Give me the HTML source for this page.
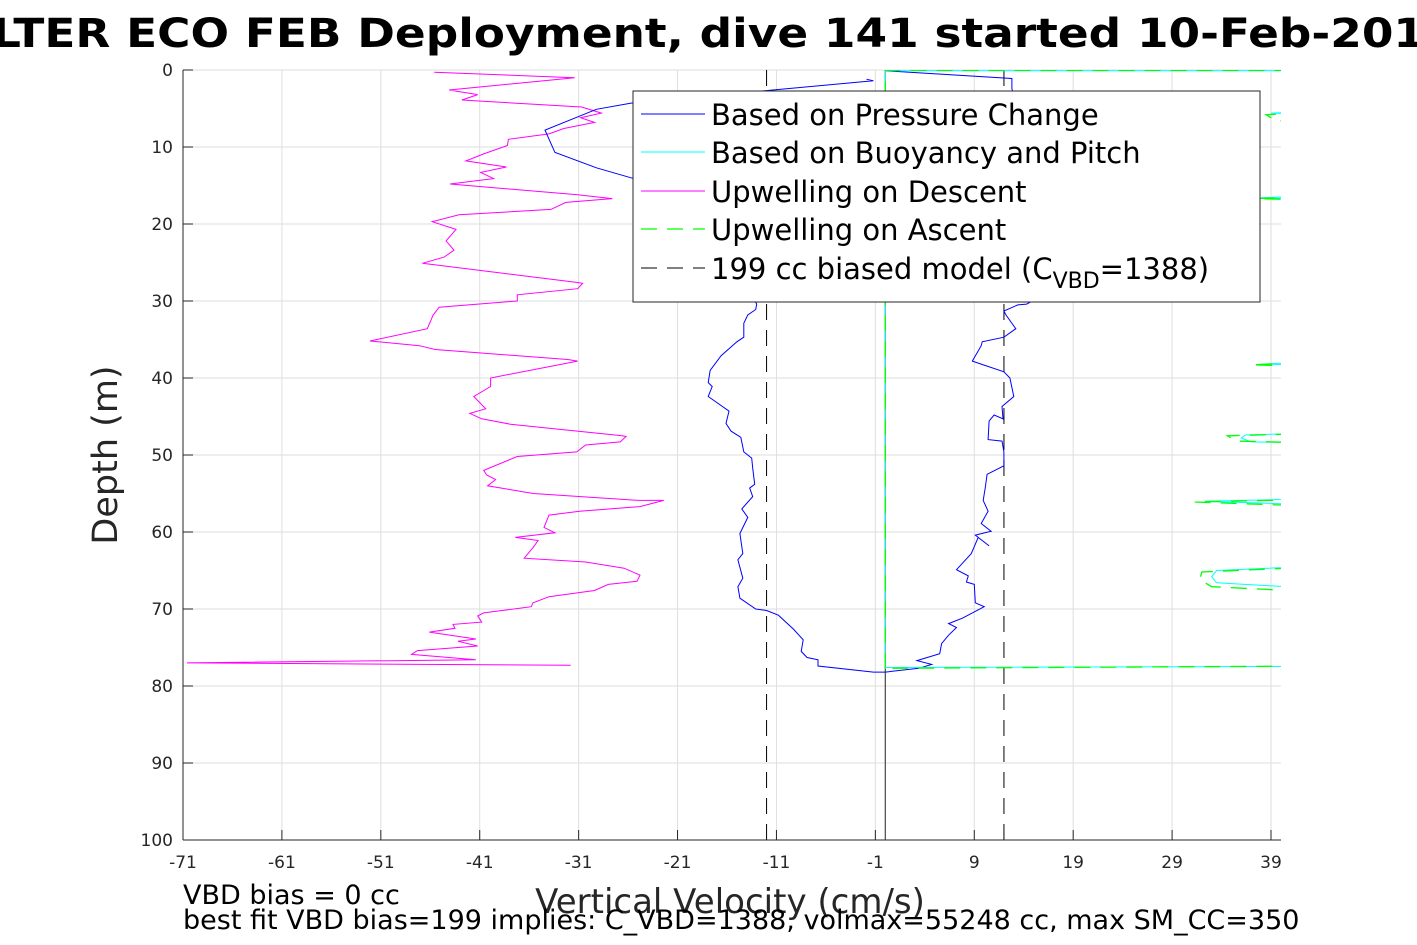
<!DOCTYPE html>
<html><head><meta charset="utf-8"><style>
html,body{margin:0;padding:0;background:#fff;overflow:hidden;}
svg{display:block;font-family:"DejaVu Sans","Liberation Sans",sans-serif;}
</style></head><body>
<svg id="chart" width="1417" height="945" viewBox="0 0 1417 945" xmlns="http://www.w3.org/2000/svg">
<text x="-8" y="47" font-size="40" font-weight="bold" fill="#000" textLength="1433" lengthAdjust="spacingAndGlyphs">LTER ECO FEB Deployment, dive 141 started 10-Feb-201</text>
<defs><clipPath id="plotclip"><rect x="183" y="70" width="1098" height="770"/></clipPath></defs>
<g id="grid"></g>
<g id="series" clip-path="url(#plotclip)"></g>
<g id="axes"></g>
<text transform="translate(117,455) rotate(-90)" text-anchor="middle" font-size="35" fill="#262626">Depth (m)</text>
<text x="730" y="913" text-anchor="middle" font-size="34" fill="#262626">Vertical Velocity (cm/s)</text>
<text x="183" y="904" font-size="27" fill="#000">VBD bias = 0 cc</text>
<text x="183" y="929" font-size="27" fill="#000">best fit VBD bias=199 implies: C_VBD=1388, volmax=55248 cc, max SM_CC=350</text>
<g>
<rect x="633" y="91" width="627" height="211" fill="#fff" stroke="#262626" stroke-width="1"/>
<line x1="641" y1="114" x2="705" y2="114" stroke="#0000ff" stroke-width="1"/>
<text x="711" y="125" font-size="29">Based on Pressure Change</text>
<line x1="641" y1="152" x2="705" y2="152" stroke="#00ffff" stroke-width="1"/>
<text x="711" y="163" font-size="29">Based on Buoyancy and Pitch</text>
<line x1="641" y1="191" x2="705" y2="191" stroke="#ff00ff" stroke-width="1"/>
<text x="711" y="202" font-size="29">Upwelling on Descent</text>
<line x1="641" y1="229" x2="705" y2="229" stroke="#00ff00" stroke-width="1.3" stroke-dasharray="16,10"/>
<text x="711" y="240" font-size="29">Upwelling on Ascent</text>
<line x1="641" y1="268" x2="705" y2="268" stroke="#000" stroke-width="1" stroke-dasharray="16,10"/>
<text x="711" y="279" font-size="29">199 cc biased model (C<tspan font-size="22" dy="9">VBD</tspan><tspan dy="-9">=1388)</tspan></text>
</g>
</svg>
<script>
const xTicks=[-71,-61,-51,-41,-31,-21,-11,-1,9,19,29,39];
const yTicks=[0,10,20,30,40,50,60,70,80,90,100];
const modelVel=[-12,12];
const descentV=[-45.6,-31.4,-44.1,-41.2,-42.8,-30.7,-28.7,-30.8,-29.4,-32.5,-34.0,-38.1,-38.2,-40.6,-42.4,-38.3,-40.9,-39.6,-44.0,-31.1,-27.6,-32.3,-33.8,-43.1,-45.8,-43.4,-44.4,-43.6,-44.6,-46.8,-31.1,-30.6,-31.1,-37.2,-37.2,-45.1,-45.7,-46.3,-52.1,-47.1,-45.5,-32.1,-31.1,-39.9,-39.9,-41.6,-40.4,-42.0,-40.8,-37.9,-26.6,-26.2,-26.8,-30.3,-31.2,-37.2,-40.6,-40.3,-39.4,-40.2,-35.6,-24.9,-22.4,-24.8,-30.9,-34.0,-34.5,-33.4,-37.4,-35.1,-35.6,-36.5,-30.3,-26.4,-24.8,-25.1,-28.0,-29.4,-34.0,-35.6,-35.8,-40.6,-41.2,-40.8,-43.7,-43.5,-46.1,-41.4,-43.2,-41.2,-47.3,-47.9,-41.4,-70.6,-31.8];
const descentD=[0.3,1.0,2.6,3.2,3.9,4.8,5.6,6.2,6.8,7.6,8.3,9.0,9.8,10.9,11.8,12.6,13.3,14.1,14.8,16.2,16.7,17.2,18.1,18.8,19.7,20.7,22.2,23.4,24.3,25.1,27.6,27.7,28.4,29.2,30.0,30.8,31.8,33.6,35.2,35.8,36.3,37.6,37.8,40.0,41.1,42.4,44.0,44.6,45.3,46.0,47.5,47.6,48.3,48.7,49.6,50.2,52.0,52.6,53.2,54.0,55.0,55.9,55.9,56.7,57.3,57.8,59.4,60.1,60.7,61.1,62.0,63.4,63.9,64.7,65.6,66.4,66.8,67.6,68.4,69.2,69.7,70.5,70.9,71.7,72.0,72.5,73.0,73.9,74.2,74.8,75.4,75.9,76.6,77.0,77.3];
const pressV=[-1.9,-1.2,-25.7,-29.2,-34.4,-33.4,-29.2,-25.7,-20,-16,-14,-13.0,-13.1,-13.9,-14.3,-14.3,-15.0,-16.6,-17.7,-17.9,-17.5,-17.9,-15.8,-16.1,-15.6,-14.6,-14.3,-13.5,-13.4,-13.2,-13.7,-13.4,-14.5,-13.9,-14.7,-14.4,-14.9,-14.4,-14.9,-14.7,-13.1,-12.0,-10.8,-9.3,-8.3,-8.5,-7.9,-6.8,-6.8,-1.2,0,3.4,4.7,3.2,5.5,5.7,6.4,7.2,6.4,7.8,10.0,9.1,9.0,8.2,8.4,7.2,8.7,9.4,10.5,9.1,10.7,9.7,10.4,9.9,10.1,10.3,12.0,12.0,11.8,10.4,10.5,11.0,11.9,11.8,13.0,12.6,12.0,9.7,8.8,9.7,9.8,12.0,13.2,12.2,12.0,13.4,14.3,15,15,14,12.8,12.8,0];
const pressD=[1.2,1.4,4.3,5.1,7.8,10.7,12.7,14.0,16,22,28,30.4,31.1,31.8,32.9,34.7,35.3,37.1,39.0,40.6,41.1,42.4,44.3,45.9,46.9,47.7,49.6,50.4,51.7,53.8,54.3,55.4,57.0,58.1,60.2,62.8,63.6,66.0,67.1,68.6,70.0,70.2,70.8,72.6,74.0,75.5,76.3,76.6,77.4,78.2,78.2,77.7,77.2,76.7,75.8,74.5,73.4,72.4,71.9,71.2,69.7,69.2,66.8,66.5,65.7,64.9,62.8,60.7,61.8,60.4,59.9,58.9,57.3,55.9,54.3,52.5,51.4,49.6,48.2,48.0,45.6,44.8,45.3,43.7,42.4,40.0,39.2,38.2,37.8,35.8,35.3,34.7,33.6,31.8,31.3,30.5,30.4,29.9,20,10,2.4,1.1,0.1];
const buoyV=[0,0,60,60,39,60,60,38,60,60,38,60,60,36.4,36,37,60,60,32.3,60,60,33.5,33,33.5,60,60,0];
const buoyD=[77.6,0.1,0.1,4.5,5.6,6.8,15.5,16.6,17.2,37,38.2,38.8,46.5,47.4,47.8,48.3,48.8,55.2,56.0,57.2,63.5,65.0,65.8,66.6,68.5,77.4,77.6];
const ascV=[0,0,60,60,38.5,39.5,60,60,37.5,60,60,37,60,60,34.6,35.5,60,60,31.3,60,60,32,31.8,33,60,60,0];
const ascD=[77.8,0.05,0.05,4.6,5.8,6.6,7.2,15.6,16.7,17.4,37,38.3,39,46.6,47.5,48.2,48.9,55.3,56.1,57.4,63.6,65.2,66.2,67.1,68.8,77.3,77.7];

const X0=183,X1=1281,Y0=70,Y1=840;
const xs=v=>X0+(v+71)*(1088/110);
const ys=d=>Y0+d*(Y1-Y0)/100;
const NS='http://www.w3.org/2000/svg';
function mk(tag,parent,attrs){const e=document.createElementNS(NS,tag);for(const k in attrs)e.setAttribute(k,attrs[k]);parent.appendChild(e);return e;}
const grid=document.getElementById('grid'),axes=document.getElementById('axes'),ser=document.getElementById('series');
xTicks.forEach(t=>{
  const g=mk('line',grid,{x1:xs(t),x2:xs(t),y1:Y0,y2:Y1,stroke:'#dedede','stroke-width':1});
  
  
  const tk=mk('line',axes,{x1:xs(t),x2:xs(t),y1:Y1,y2:Y1-10,stroke:'#262626','stroke-width':1});
  
  
  const lb=mk('text',axes,{x:xs(t),y:Y1+28,'text-anchor':'middle','font-size':17,fill:'#262626'});
  lb.textContent=t;
  
  
});
yTicks.forEach(t=>{
  const g=mk('line',grid,{x1:X0,x2:X1,y1:ys(t),y2:ys(t),stroke:'#dedede','stroke-width':1});
  
  
  const tk=mk('line',axes,{x1:X0,x2:X0+10,y1:ys(t),y2:ys(t),stroke:'#262626','stroke-width':1});
  
  
  const lb=mk('text',axes,{x:X0-10,y:ys(t)+6,'text-anchor':'end','font-size':17,fill:'#262626'});
  lb.textContent=t;
  
  
});
const ax1=mk('line',axes,{x1:X0,x2:X0,y1:Y0,y2:Y1,stroke:'#262626','stroke-width':1});


const ax2=mk('line',axes,{x1:X0,x2:X1,y1:Y1,y2:Y1,stroke:'#262626','stroke-width':1});



function path(vs,ds,color,dash,name,w){
  const d=vs.map((v,i)=>(i?'L':'M')+xs(v).toFixed(1)+','+ys(ds[i]).toFixed(1)).join('');
  const p=mk('path',ser,{d:d,fill:'none',stroke:color,'stroke-width':w||1});
  if(dash)p.setAttribute('stroke-dasharray',dash);
  
  
}
modelVel.forEach(v=>{
  const l=mk('line',ser,{x1:xs(v),x2:xs(v),y1:Y0,y2:Y1,stroke:'#000','stroke-width':1,'stroke-dasharray':'16,10'});
  
  
});
const zl=mk('line',ser,{x1:xs(0),x2:xs(0),y1:Y0,y2:Y1,stroke:'#222','stroke-width':1});


path(descentV,descentD,'#ff00ff',null,'upwelling-descent-line');
path(pressV,pressD,'#0000ff',null,'pressure-change-line');
path(buoyV,buoyD,'#00ffff',null,'buoyancy-pitch-line');
path(ascV,ascD,'#00ff00','16,10','upwelling-ascent-line',1.3);
</script>
</body></html>
